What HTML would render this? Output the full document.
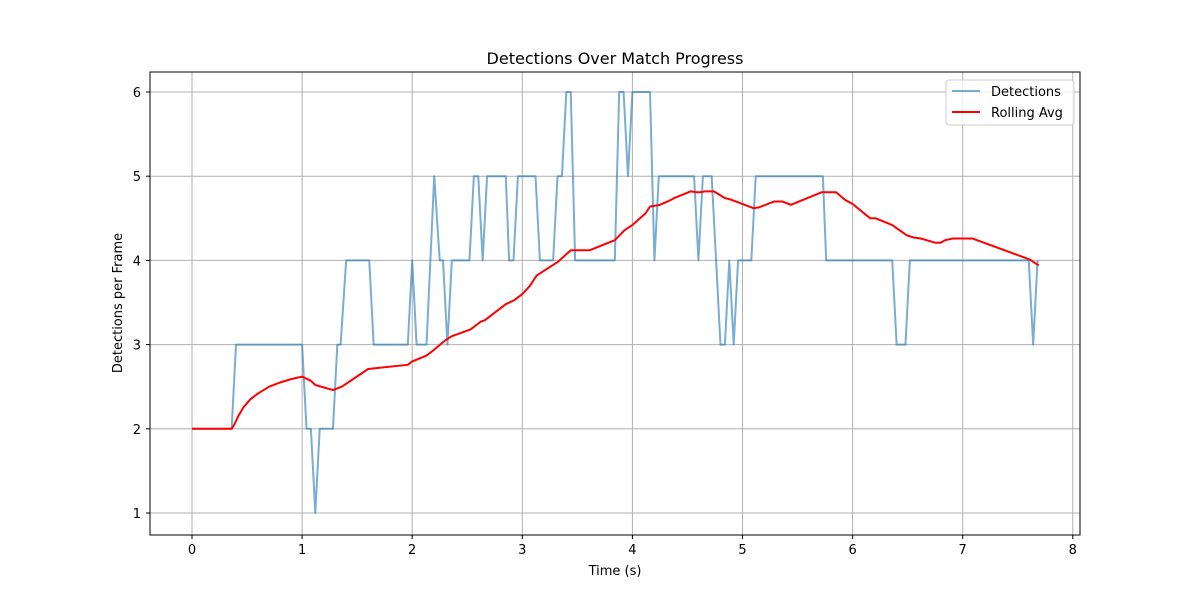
<!DOCTYPE html>
<html><head><meta charset="utf-8"><style>
body{margin:0;background:#fff;font-family:"Liberation Sans","DejaVu Sans",sans-serif;}
svg text{font-family:"DejaVu Sans","Liberation Sans",sans-serif;}
</style></head><body>
<svg id="chart" width="1200" height="600" xmlns="http://www.w3.org/2000/svg">
<rect width="1200" height="600" fill="#fff"/>
<g id="grid"></g>
<g id="series"></g>
<rect x="150" y="72" width="930" height="463" fill="none" stroke="#000" stroke-width="1"/>
<g id="ticks"></g>
<text x="615" y="64" text-anchor="middle" font-size="16">Detections Over Match Progress</text>
<text x="615" y="575" text-anchor="middle" font-size="13">Time (s)</text>
<text x="122" y="303" text-anchor="middle" font-size="13" transform="rotate(-90 122 303)">Detections per Frame</text>
<g>
<rect x="946" y="80" width="128" height="45" rx="3" fill="#fff" fill-opacity="0.8" stroke="#ccc"/>
<line x1="952" y1="91" x2="980" y2="91" stroke="#1f77b4" stroke-opacity="0.6" stroke-width="2"/>
<text x="991" y="96" font-size="13">Detections</text>
<line x1="952" y1="112" x2="980" y2="112" stroke="#f00" stroke-width="2"/>
<text x="991" y="117" font-size="13">Rolling Avg</text>
</g>
</svg>
<script>
const detT=[0,0.36,0.4,1.0,1.04,1.08,1.12,1.16,1.28,1.32,1.35,1.4,1.61,1.65,1.96,2.0,2.04,2.13,2.2,2.25,2.28,2.32,2.36,2.52,2.56,2.6,2.64,2.68,2.85,2.88,2.92,2.96,3.12,3.16,3.28,3.32,3.36,3.4,3.44,3.48,3.84,3.88,3.92,3.96,4.0,4.16,4.2,4.24,4.56,4.6,4.64,4.72,4.8,4.84,4.88,4.92,4.96,5.08,5.12,5.73,5.76,6.36,6.4,6.48,6.52,7.6,7.64,7.68];
const detV=[2,2,3,3,2,2,1,2,2,3,3,4,4,3,3,4,3,3,5,4,4,3,4,4,5,5,4,5,5,4,4,5,5,4,4,5,5,6,6,4,4,6,6,5,6,6,4,5,5,4,5,5,3,3,4,3,4,4,5,5,4,4,3,3,4,4,3,4];
const avgT=[0,0.36,0.38,0.42,0.47,0.53,0.6,0.7,0.8,0.9,1.0,1.08,1.12,1.28,1.36,1.6,1.96,2.0,2.13,2.2,2.3,2.36,2.53,2.62,2.66,2.85,2.93,3.0,3.07,3.13,3.32,3.44,3.61,3.84,3.93,4.0,4.12,4.16,4.21,4.25,4.32,4.38,4.53,4.58,4.62,4.66,4.74,4.84,4.9,5.1,5.15,5.29,5.36,5.44,5.72,5.85,5.93,6.0,6.16,6.21,6.36,6.49,6.56,6.62,6.75,6.8,6.84,6.91,7.09,7.61,7.69];
const avgV=[2,2,2.04,2.15,2.26,2.35,2.42,2.5,2.55,2.59,2.62,2.57,2.52,2.46,2.5,2.71,2.76,2.8,2.87,2.94,3.05,3.1,3.18,3.27,3.29,3.48,3.53,3.6,3.7,3.82,3.98,4.12,4.12,4.24,4.36,4.42,4.56,4.64,4.65,4.66,4.7,4.74,4.82,4.81,4.81,4.82,4.82,4.74,4.72,4.62,4.63,4.7,4.7,4.66,4.81,4.81,4.72,4.67,4.5,4.5,4.42,4.3,4.27,4.26,4.21,4.21,4.24,4.26,4.26,4.01,3.94];
const xTicks=[0,1,2,3,4,5,6,7,8];
const yTicks=[1,2,3,4,5,6];
const X=t=>192+t*110.1, Y=v=>513-(v-1)*84.2;
const NS='http://www.w3.org/2000/svg';
function mk(tag,attrs,parent){const e=document.createElementNS(NS,tag);for(const k in attrs)e.setAttribute(k,attrs[k]);parent.appendChild(e);return e;}
const grid=document.getElementById('grid'),ticks=document.getElementById('ticks'),series=document.getElementById('series');
xTicks.forEach(t=>{
 const l=mk('line',{x1:X(t),x2:X(t),y1:72,y2:535,stroke:'#b0b0b0','stroke-width':1},grid);
 
 
 mk('line',{x1:X(t),x2:X(t),y1:535,y2:539,stroke:'#000'},ticks);
 const tx=mk('text',{x:X(t),y:554,'text-anchor':'middle','font-size':13},ticks);tx.textContent=t;
 
 
});
yTicks.forEach(v=>{
 const l=mk('line',{x1:150,x2:1080,y1:Y(v),y2:Y(v),stroke:'#b0b0b0','stroke-width':1},grid);
 
 
 mk('line',{x1:146,x2:150,y1:Y(v),y2:Y(v),stroke:'#000'},ticks);
 const tx=mk('text',{x:141,y:Y(v)+5,'text-anchor':'end','font-size':13},ticks);tx.textContent=v;
 
 
});
const d1=mk('polyline',{points:detT.map((t,i)=>X(t)+','+Y(detV[i])).join(' '),fill:'none',stroke:'#1f77b4','stroke-opacity':0.6,'stroke-width':2,'stroke-linejoin':'round'},series);


const d2=mk('polyline',{points:avgT.map((t,i)=>X(t)+','+Y(avgV[i])).join(' '),fill:'none',stroke:'#f00','stroke-width':2,'stroke-linejoin':'round'},series);


</script>
</body></html>
